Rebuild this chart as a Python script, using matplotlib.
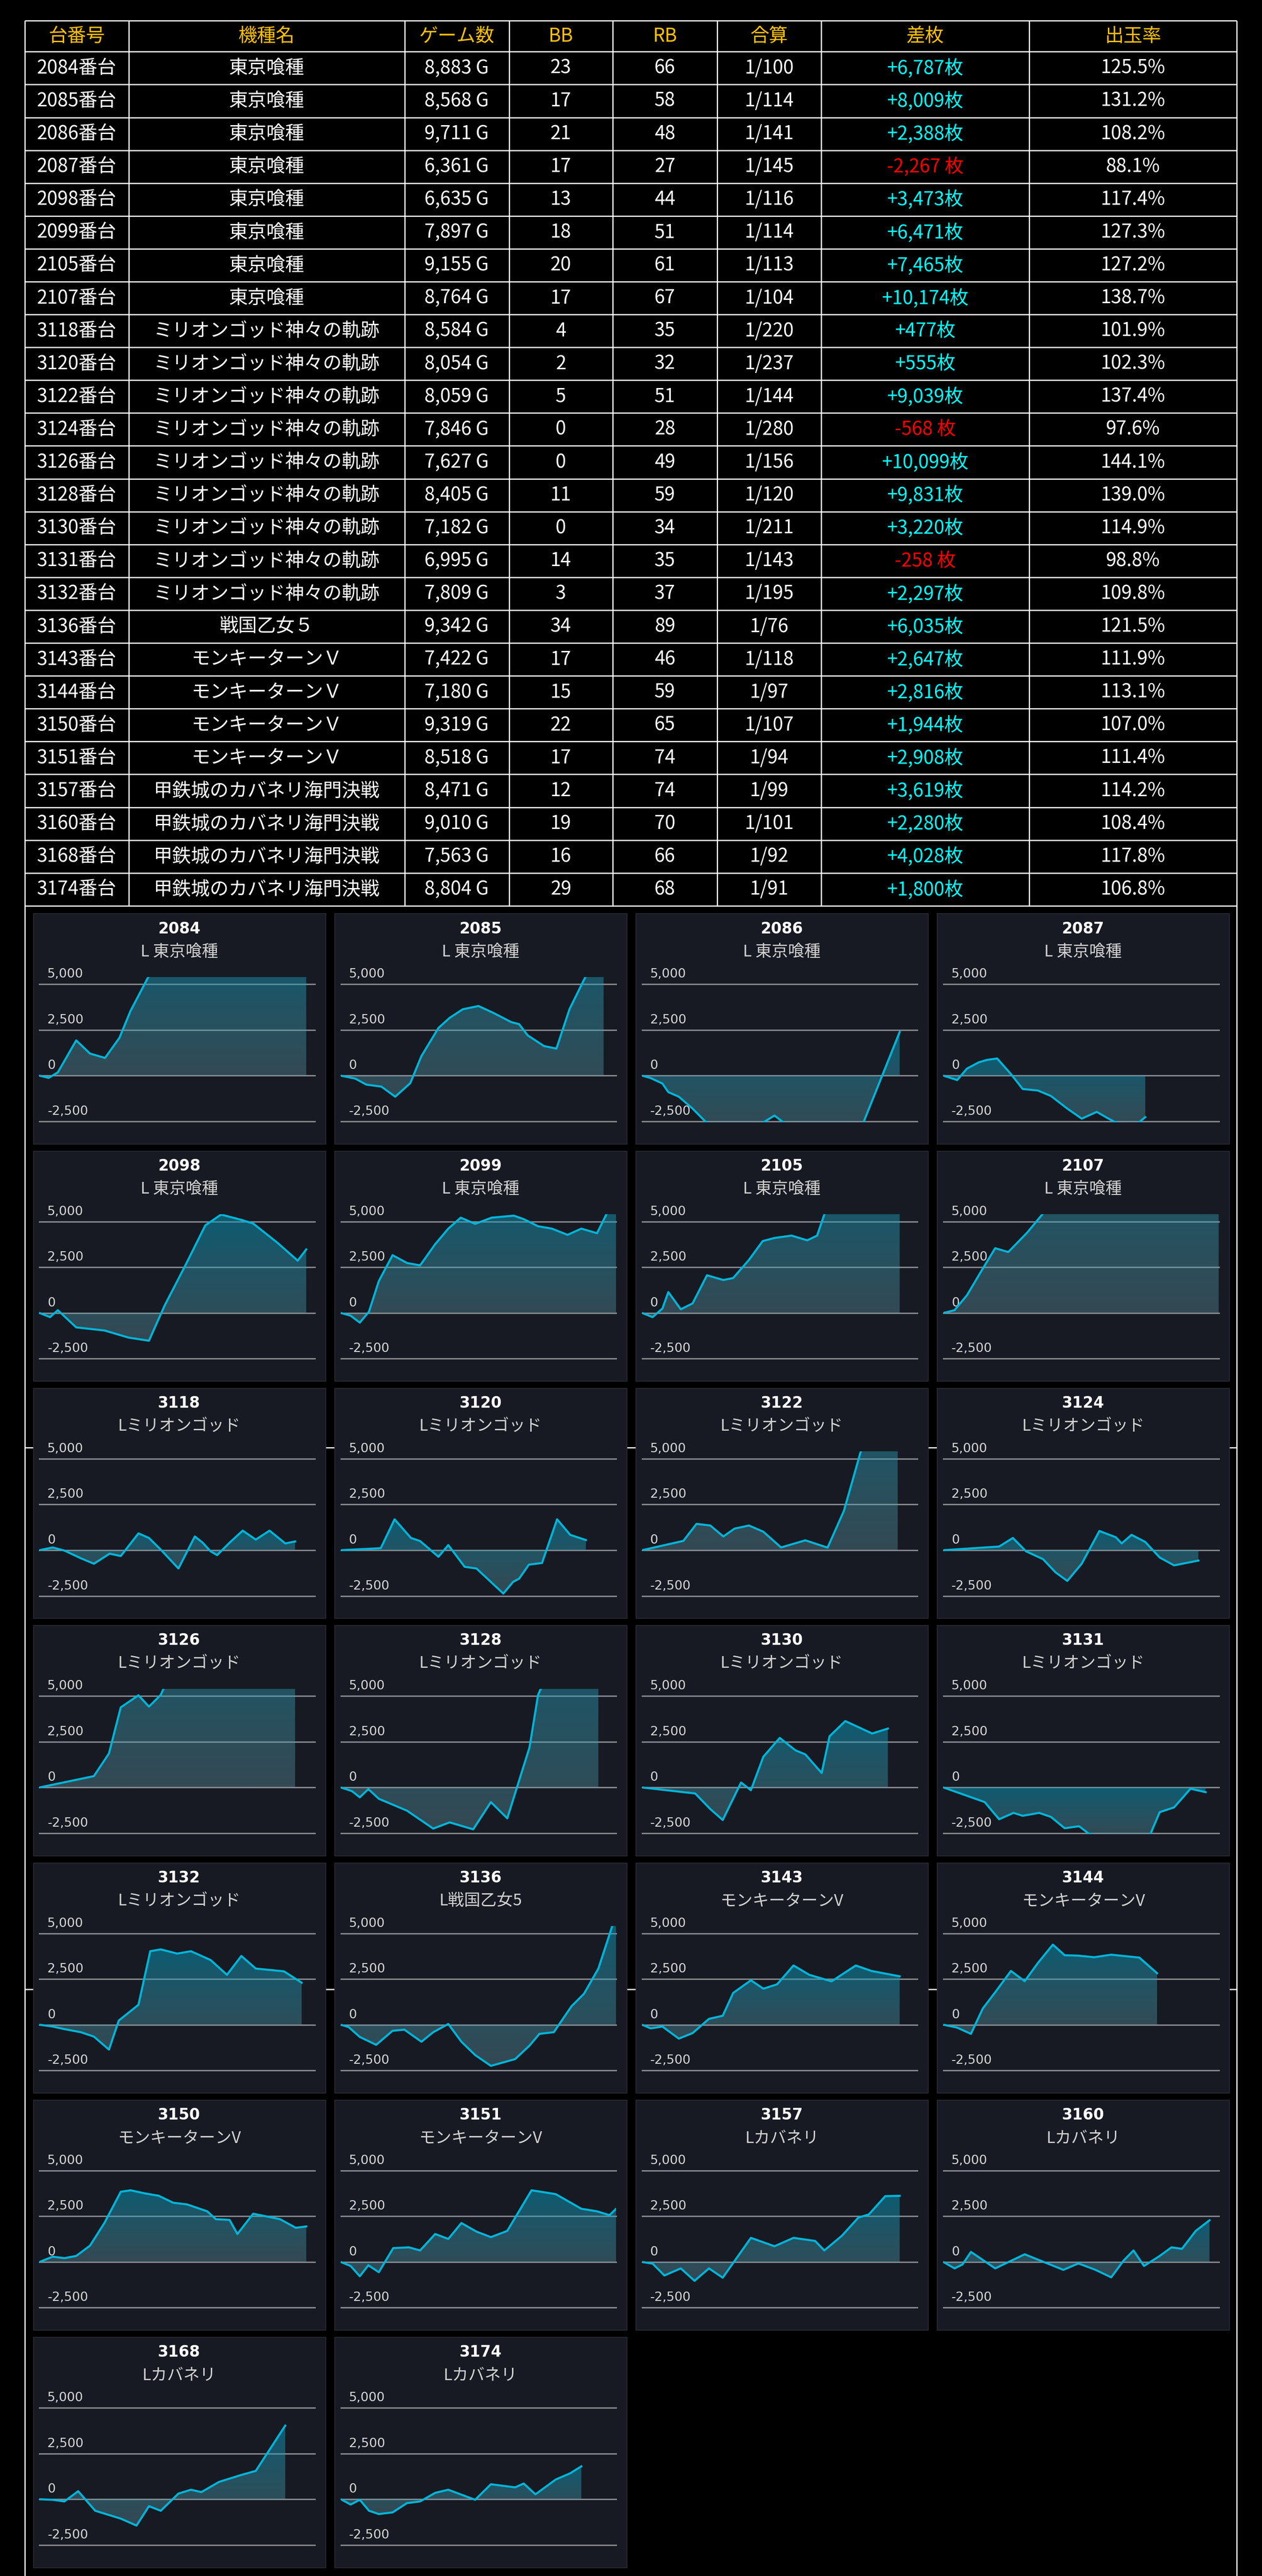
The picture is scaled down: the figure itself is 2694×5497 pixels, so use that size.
import numpy as np
import matplotlib
matplotlib.use("Agg")
import matplotlib.pyplot as plt
from matplotlib.patches import Rectangle

plt.rcParams['font.family'] = ['Noto Sans CJK JP', 'DejaVu Sans']

# ---------------- table data ----------------
headers = ["台番号", "機種名", "ゲーム数", "BB", "RB", "合算", "差枚", "出玉率"]
unit_no = [2084, 2085, 2086, 2087, 2098, 2099, 2105, 2107, 3118, 3120, 3122, 3124, 3126,
           3128, 3130, 3131, 3132, 3136, 3143, 3144, 3150, 3151, 3157, 3160, 3168, 3174]
machines = (["東京喰種"] * 8 + ["ミリオンゴッド神々の軌跡"] * 9 + ["戦国乙女５"]
            + ["モンキーターンＶ"] * 4 + ["甲鉄城のカバネリ海門決戦"] * 4)
games = [8883, 8568, 9711, 6361, 6635, 7897, 9155, 8764, 8584, 8054, 8059, 7846, 7627,
         8405, 7182, 6995, 7809, 9342, 7422, 7180, 9319, 8518, 8471, 9010, 7563, 8804]
bb = [23, 17, 21, 17, 13, 18, 20, 17, 4, 2, 5, 0, 0, 11, 0, 14, 3, 34, 17, 15, 22, 17, 12, 19, 16, 29]
rb = [66, 58, 48, 27, 44, 51, 61, 67, 35, 32, 51, 28, 49, 59, 34, 35, 37, 89, 46, 59, 65, 74, 74, 70, 66, 68]
combined = ["1/100", "1/114", "1/141", "1/145", "1/116", "1/114", "1/113", "1/104", "1/220",
            "1/237", "1/144", "1/280", "1/156", "1/120", "1/211", "1/143", "1/195", "1/76",
            "1/118", "1/97", "1/107", "1/94", "1/99", "1/101", "1/92", "1/91"]
diff = [6787, 8009, 2388, -2267, 3473, 6471, 7465, 10174, 477, 555, 9039, -568, 10099,
        9831, 3220, -258, 2297, 6035, 2647, 2816, 1944, 2908, 3619, 2280, 4028, 1800]
payout = [125.5, 131.2, 108.2, 88.1, 117.4, 127.3, 127.2, 138.7, 101.9, 102.3, 137.4, 97.6,
          144.1, 139.0, 114.9, 98.8, 109.8, 121.5, 111.9, 113.1, 107.0, 111.4, 114.2, 108.4,
          117.8, 106.8]

# ---------------- chart data (x: progress, y: 差枚 history) ----------------
panel_labels = (["L 東京喰種"] * 8 + ["Lミリオンゴッド"] * 9 + ["L戦国乙女5"]
                + ["モンキーターンV"] * 4 + ["Lカバネリ"] * 4)

line_x = [
    [0, 1.4, 2.8, 5.6, 7.7, 10.0, 12.2, 13.9, 16.9, 18.5, 25.9, 33.3, 40.7],
    [0, 2.2, 3.9, 6.2, 8.3, 10.6, 12.3, 14.9, 16.6, 18.6, 21.0, 23.3, 26.0, 27.2, 28.5, 31.0, 32.9, 34.9, 37.6, 40.1],
    [0, 1.3, 3.1, 4.0, 5.6, 7.7, 9.8, 13.0, 18.2, 20.2, 21.8, 27.0, 33.7, 39.3],
    [0, 2.1, 3.6, 5.4, 6.6, 8.2, 10.3, 12.1, 14.4, 16.4, 18.9, 21.1, 23.4, 25.0, 26.3, 28.0, 29.6, 30.8],
    [0, 1.6, 2.8, 5.6, 9.9, 13.6, 16.7, 19.1, 22.2, 25.3, 27.7, 30.8, 32.6, 36.3, 39.4, 40.7],
    [0, 1.5, 2.9, 4.3, 5.8, 7.9, 10.1, 12.1, 14.4, 16.4, 18.3, 20.5, 23.0, 26.4, 27.9, 30.1, 32.2, 34.6, 36.7, 39.1, 42.0],
    [0, 1.6, 3.1, 4.0, 5.9, 7.7, 9.9, 12.4, 13.9, 16.3, 18.4, 20.2, 22.8, 25.2, 26.7, 28.2, 39.3],
    [0, 1.7, 3.6, 5.8, 7.9, 9.9, 12.8, 15.8, 28.0, 42.0],
    [0, 2.0, 3.8, 6.3, 8.3, 10.7, 12.4, 15.1, 16.7, 18.5, 21.2, 23.7, 24.9, 26.1, 27.1, 29.0, 31.0, 33.0, 35.1, 37.5, 39.0],
    [0, 6.1, 8.2, 10.7, 12.1, 14.9, 16.4, 18.9, 20.7, 23.0, 24.8, 26.3, 27.2, 28.7, 30.7, 33.0, 35.0, 37.4],
    [0, 6.3, 8.3, 10.4, 12.4, 14.1, 16.3, 18.5, 21.2, 24.9, 28.3, 30.8, 33.6, 39.0],
    [0, 8.5, 10.6, 12.6, 15.2, 17.1, 18.9, 21.1, 23.8, 26.3, 27.2, 28.7, 30.8, 33.0, 35.2, 38.9],
    [0, 8.3, 10.6, 12.4, 15.1, 16.7, 18.5, 19.3, 25.0, 39.0],
    [0, 1.7, 2.9, 4.2, 5.8, 10.1, 14.1, 16.6, 20.2, 22.9, 25.4, 28.8, 30.1, 31.0, 39.3],
    [0, 8.1, 10.4, 12.3, 15.1, 16.6, 18.5, 21.0, 23.4, 24.9, 27.4, 28.6, 31.0, 35.1, 37.5],
    [0, 6.3, 8.5, 10.7, 12.1, 14.6, 16.4, 18.5, 20.7, 22.3, 27.0, 31.5, 33.0, 35.2, 37.7, 40.0],
    [0, 2.0, 3.8, 6.3, 8.3, 10.6, 12.1, 15.1, 16.9, 18.5, 21.0, 23.1, 26.1, 28.6, 30.8, 33.0, 37.3, 40.0],
    [0, 1.2, 2.9, 5.4, 7.9, 9.7, 12.3, 14.1, 16.4, 18.4, 20.5, 22.9, 26.6, 28.8, 30.3, 32.5, 35.2, 37.1, 39.3, 42.0],
    [0, 1.3, 3.1, 5.6, 7.7, 10.2, 12.3, 13.9, 16.6, 18.5, 20.6, 23.1, 25.5, 28.9, 32.6, 35.0, 39.3],
    [0, 2.1, 4.2, 6.0, 8.1, 10.3, 12.4, 14.4, 16.7, 18.5, 20.5, 23.0, 25.6, 29.9, 32.6],
    [0, 2.0, 3.8, 5.6, 7.7, 9.9, 12.4, 13.9, 16.1, 18.2, 20.4, 22.5, 25.6, 26.9, 29.0, 30.2, 32.6, 36.7, 39.1, 40.7],
    [0, 1.5, 2.9, 4.2, 5.8, 8.0, 10.4, 12.1, 14.4, 16.4, 18.4, 20.7, 22.9, 25.4, 29.1, 32.8, 36.7, 39.1, 41.0, 42.0],
    [0, 1.6, 3.4, 5.9, 8.0, 10.2, 12.3, 16.6, 20.2, 23.1, 26.4, 27.8, 30.5, 33.0, 34.6, 37.1, 39.3],
    [0, 1.7, 2.9, 4.2, 7.9, 12.4, 18.3, 20.6, 23.2, 25.6, 27.5, 29.0, 30.6, 33.0, 34.8, 36.4, 38.5, 40.6],
    [0, 2.0, 3.8, 5.9, 8.5, 12.4, 14.8, 16.7, 18.5, 21.2, 23.1, 24.7, 27.4, 30.8, 33.0, 37.5],
    [0, 1.5, 2.9, 4.3, 5.8, 7.9, 10.1, 12.1, 14.4, 16.4, 20.5, 22.9, 26.6, 27.9, 29.7, 32.8, 35.0, 36.7],
]
line_y = [
    [0, -120, 180, 1930, 1210, 970, 2070, 3550, 5600, 6000, 6600, 7000, 6787],
    [0, -160, -490, -600, -1150, -410, 1070, 2610, 3160, 3630, 3810, 3430, 2930, 2820, 2210, 1620, 1480, 3640, 5600, 8009],
    [0, -130, -430, -900, -1150, -1800, -2560, -3000, -2620, -2180, -2620, -3100, -2620, 2388],
    [0, -240, 390, 730, 860, 940, 90, -730, -810, -1110, -1800, -2350, -1980, -2310, -2560, -2750, -2620, -2267],
    [0, -230, 150, -790, -960, -1350, -1520, 410, 2560, 4790, 5380, 5090, 4890, 3840, 2860, 3473],
    [0, -150, -530, 70, 1740, 3160, 2730, 2600, 3760, 4610, 5210, 4870, 5210, 5320, 5130, 4740, 4610, 4270, 4610, 4360, 6471],
    [0, -230, 240, 1140, 200, 520, 2060, 1800, 1910, 2900, 3930, 4100, 4230, 3970, 4230, 5800, 7465],
    [0, 150, 970, 2300, 3540, 3330, 4400, 5700, 8500, 10174],
    [0, 150, -20, -440, -740, -190, -320, 920, 670, 30, -1000, 750, 410, -60, -270, 410, 1070, 580, 1070, 370, 477],
    [0, 110, 1690, 670, 500, -360, 280, -910, -1000, -1770, -2370, -1730, -1560, -790, -700, 1690, 840, 555],
    [0, 510, 1440, 1350, 750, 1180, 1350, 1010, 150, 540, 140, 2160, 5700, 9039],
    [0, 200, 670, -60, -490, -1210, -1680, -740, 1050, 710, 370, 840, 450, -400, -830, -568],
    [0, 620, 1860, 4380, 5040, 4420, 5060, 5700, 8000, 10099],
    [0, -200, -540, -90, -620, -1270, -2250, -1910, -2290, -800, -1690, 2200, 5060, 5800, 9831],
    [0, -330, -1180, -1780, 270, -150, 1680, 2710, 2030, 1810, 790, 2800, 3630, 2950, 3220],
    [0, -800, -1740, -1390, -1550, -1390, -1610, -2230, -2120, -2560, -2800, -2620, -1350, -1090, -70, -258],
    [0, -100, -240, -410, -650, -1360, 230, 1090, 4020, 4120, 3890, 4020, 3540, 2730, 3760, 3070, 2920, 2297],
    [0, -130, -670, -1100, -330, -270, -930, -410, 40, -930, -1660, -2250, -1880, -1140, -500, -410, 1010, 1690, 3070, 6035],
    [0, -200, -100, -760, -460, 320, 490, 1740, 2430, 1970, 2210, 3240, 2730, 2370, 3240, 2940, 2647],
    [0, -160, -500, 880, 1870, 2940, 2380, 3370, 4380, 3800, 3780, 3690, 3830, 3670, 2816],
    [0, 290, 210, 330, 890, 2130, 3840, 3920, 3750, 3620, 3240, 3150, 2770, 2340, 2300, 1530, 2640, 2340, 1870, 1944],
    [0, -220, -780, -180, -560, 760, 800, 630, 1530, 1260, 2130, 1660, 1360, 1700, 3920, 3710, 2910, 2770, 2560, 2908],
    [0, -90, -740, -350, -1030, -350, -860, 1320, 860, 1320, 1150, 630, 1440, 2430, 2600, 3600, 3619],
    [0, -350, -140, 550, -350, 420, -430, -80, -430, -840, 80, 630, -220, 330, 800, 720, 1700, 2280],
    [0, -30, -120, 440, -630, -1060, -1440, -380, -630, 310, 520, 390, 950, 1330, 1550, 4028],
    [0, -290, -30, -630, -810, -720, -210, -120, 350, 520, -30, 820, 650, 860, 270, 1080, 1420, 1800],
]
grid_values = [5000, 2500, 0, -2500]

# ---------------- layout (pixels) ----------------
W, H = 2694, 5497
COL_EDGES = [52.5, 274.6, 863.5, 1086.5, 1308, 1531, 1753, 2197, 2640]
TABLE_TOP = 44.3
HEADER_BOTTOM = 110.3
ROW_H = 70.1
STUB_Y = [3089, 4245]

PANEL_X0, PANEL_DX = 70.6, 643.2
PANEL_Y0, PANEL_DY = 1949.3, 506.3
PANEL_W, PANEL_H = 624, 491.5
PLOT_LEFT, PLOT_W = 13.7, 587.6
PLOT_TOP, PLOT_BOTTOM = 135.4, 446.0

HEADER_COLOR = '#ffc000'
PLUS_COLOR = '#00ffff'
MINUS_COLOR = '#ff0000'
LINE_COLOR = '#00b4d8'
FILL_TOP = np.array([4, 157, 193, 128]) / 255.0
FILL_BOTTOM = np.array([104, 161, 175, 90]) / 255.0

fig = plt.figure(figsize=(W / 100, H / 100), dpi=100, facecolor='black')
bg = fig.add_axes([0, 0, 1, 1])
bg.set_xlim(0, W)
bg.set_ylim(H, 0)
bg.axis('off')
bg.set_facecolor('black')

# ---------------- table ----------------
n_rows = len(unit_no)
table_bottom = HEADER_BOTTOM + n_rows * ROW_H
lw_table = 1.8
bg.hlines([TABLE_TOP, HEADER_BOTTOM] + [HEADER_BOTTOM + ROW_H * (k + 1) for k in range(n_rows)],
          COL_EDGES[0], COL_EDGES[-1], color='white', lw=lw_table, zorder=1)
bg.vlines(COL_EDGES[1:-1], TABLE_TOP, table_bottom, color='white', lw=lw_table, zorder=1)
bg.vlines([COL_EDGES[0], COL_EDGES[-1]], TABLE_TOP, H, color='white', lw=lw_table, zorder=1)
bg.hlines(STUB_Y, COL_EDGES[0], COL_EDGES[-1], color='white', lw=lw_table, zorder=1)

col_centers = [(a + b) / 2 for a, b in zip(COL_EDGES[:-1], COL_EDGES[1:])]
fs_table = 29
header_y = (TABLE_TOP + HEADER_BOTTOM) / 2
for cx, h in zip(col_centers, headers):
    bg.text(cx, header_y, h, ha='center', va='center', fontsize=fs_table, color=HEADER_COLOR)

for i in range(n_rows):
    cy = HEADER_BOTTOM + ROW_H * (i + 0.5)
    d = diff[i]
    if d >= 0:
        d_txt, d_col = f"+{d:,}枚", PLUS_COLOR
    else:
        d_txt, d_col = f"{d:,} 枚", MINUS_COLOR
    cells = [f"{unit_no[i]}番台", machines[i], f"{games[i]:,} G", str(bb[i]), str(rb[i]),
             combined[i], d_txt, f"{payout[i]:.1f}%"]
    colors = ['white'] * 6 + [d_col, 'white']
    for cx, txt, c in zip(col_centers, cells, colors):
        bg.text(cx, cy, txt, ha='center', va='center', fontsize=fs_table, color=c)

# ---------------- chart panels ----------------
for i in range(n_rows):
    col, row = i % 4, i // 4
    px = PANEL_X0 + col * PANEL_DX
    py = PANEL_Y0 + row * PANEL_DY
    bg.add_patch(Rectangle((px, py), PANEL_W, PANEL_H, facecolor='#171a22',
                           edgecolor='#30333b', lw=1.0, zorder=2))
    bg.text(px + PANEL_W / 2, py + 32.7, str(unit_no[i]), ha='center', va='center',
            fontsize=23.5, fontweight='bold', color='white', family='DejaVu Sans', zorder=3)
    bg.text(px + PANEL_W / 2, py + 82, panel_labels[i], ha='center', va='center',
            fontsize=25, color='#d2d2d2', zorder=3,
            family=['Noto Sans CJK JP', 'DejaVu Sans'])

    ax = fig.add_axes([(px + PLOT_LEFT) / W, 1 - (py + PLOT_BOTTOM) / H,
                       PLOT_W / W, (PLOT_BOTTOM - PLOT_TOP) / H])
    ax.set_facecolor('none')
    ax.axis('off')

    for v in grid_values:
        ax.axhline(v, color='#85878c', lw=2.2, zorder=1, clip_on=False)
        ax.annotate(f"{v:,}", xy=(0, v), xytext=(17, 21), textcoords='offset pixels',
                    ha='left', va='center', fontsize=19.5, color='#d6d6d6',
                    family='DejaVu Sans', annotation_clip=False)

    x = np.array(line_x[i], dtype=float)
    y = np.array(line_y[i], dtype=float)

    # gradient area between the line and zero
    poly = ax.fill_between(x, y, 0, facecolor='none', edgecolor='none')
    path = poly.get_paths()[0]
    ymin, ymax = min(y.min(), 0), max(y.max(), 0)
    t = np.linspace(0, 1, 256)[:, None]
    grad = (FILL_TOP * (1 - t) + FILL_BOTTOM * t)[:, None, :]
    im = ax.imshow(grad, extent=[x[0], x[-1], ymin, ymax], aspect='auto',
                   origin='upper', interpolation='bilinear', zorder=2)
    im.set_clip_path(path, transform=ax.transData)

    ax.plot(x, y, color=LINE_COLOR, lw=3.2, zorder=3, solid_joinstyle='round')
    ax.set_xlim(0, 42)
    ax.set_ylim(-2560, 5400)

fig.savefig('out.png', dpi=100, facecolor='black')
